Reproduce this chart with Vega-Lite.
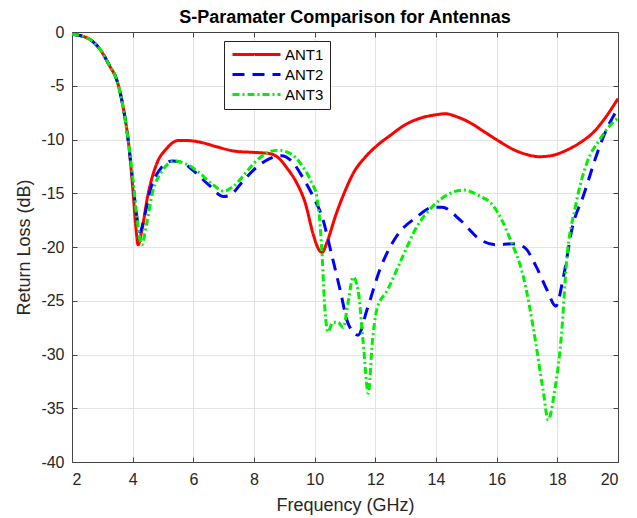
{
  "$schema": "https://vega.github.io/schema/vega-lite/v6.json",
  "width": 546,
  "height": 430,
  "autosize": {"type": "none"},
  "padding": {"left": 72, "top": 32, "right": 19, "bottom": 56},
  "background": "white",
  "title": {
    "text": "S-Paramater Comparison for Antennas",
    "font": "Liberation Sans",
    "fontSize": 18,
    "fontWeight": "bold",
    "color": "#000000",
    "anchor": "middle",
    "offset": -3
  },
  "config": {
    "view": {"stroke": "#444444", "strokeWidth": 1},
    "axis": {
      "labelFont": "Liberation Sans",
      "titleFont": "Liberation Sans",
      "labelFontSize": 16,
      "titleFontSize": 18,
      "titleFontWeight": "normal",
      "labelColor": "#262626",
      "titleColor": "#262626",
      "domainColor": "#444444",
      "tickColor": "#444444",
      "gridColor": "#e3e3e3",
      "gridWidth": 1,
      "labelExpr": "toString(datum.value)"
    }
  },
  "data": {
    "values": [
      {"f": 2.0, "s": -0.2, "ant": "ANT1"},
      {"f": 2.36, "s": -0.4, "ant": "ANT1"},
      {"f": 2.65, "s": -0.8, "ant": "ANT1"},
      {"f": 2.92, "s": -1.6, "ant": "ANT1"},
      {"f": 3.25, "s": -3.2, "ant": "ANT1"},
      {"f": 3.48, "s": -4.5, "ant": "ANT1"},
      {"f": 3.68, "s": -6.9, "ant": "ANT1"},
      {"f": 3.85, "s": -10.0, "ant": "ANT1"},
      {"f": 4.0, "s": -14.4, "ant": "ANT1"},
      {"f": 4.1, "s": -18.0, "ant": "ANT1"},
      {"f": 4.18, "s": -19.8, "ant": "ANT1"},
      {"f": 4.3, "s": -18.5, "ant": "ANT1"},
      {"f": 4.5, "s": -15.2, "ant": "ANT1"},
      {"f": 4.8, "s": -12.2, "ant": "ANT1"},
      {"f": 5.1, "s": -10.9, "ant": "ANT1"},
      {"f": 5.5, "s": -10.1, "ant": "ANT1"},
      {"f": 5.8, "s": -10.1, "ant": "ANT1"},
      {"f": 6.3, "s": -10.3, "ant": "ANT1"},
      {"f": 6.8, "s": -10.7, "ant": "ANT1"},
      {"f": 7.4, "s": -11.1, "ant": "ANT1"},
      {"f": 8.0, "s": -11.2, "ant": "ANT1"},
      {"f": 8.5, "s": -11.3, "ant": "ANT1"},
      {"f": 8.8, "s": -11.7, "ant": "ANT1"},
      {"f": 9.1, "s": -12.7, "ant": "ANT1"},
      {"f": 9.4, "s": -14.0, "ant": "ANT1"},
      {"f": 9.7, "s": -16.0, "ant": "ANT1"},
      {"f": 9.95, "s": -18.8, "ant": "ANT1"},
      {"f": 10.15, "s": -20.3, "ant": "ANT1"},
      {"f": 10.25, "s": -20.5, "ant": "ANT1"},
      {"f": 10.4, "s": -19.6, "ant": "ANT1"},
      {"f": 10.7, "s": -17.0, "ant": "ANT1"},
      {"f": 11.0, "s": -14.8, "ant": "ANT1"},
      {"f": 11.3, "s": -13.0, "ant": "ANT1"},
      {"f": 11.65, "s": -11.7, "ant": "ANT1"},
      {"f": 12.0, "s": -10.7, "ant": "ANT1"},
      {"f": 12.5, "s": -9.6, "ant": "ANT1"},
      {"f": 13.0, "s": -8.6, "ant": "ANT1"},
      {"f": 13.5, "s": -8.0, "ant": "ANT1"},
      {"f": 14.0, "s": -7.7, "ant": "ANT1"},
      {"f": 14.3, "s": -7.6, "ant": "ANT1"},
      {"f": 14.7, "s": -7.9, "ant": "ANT1"},
      {"f": 15.1, "s": -8.4, "ant": "ANT1"},
      {"f": 15.6, "s": -9.3, "ant": "ANT1"},
      {"f": 16.1, "s": -10.2, "ant": "ANT1"},
      {"f": 16.6, "s": -11.0, "ant": "ANT1"},
      {"f": 17.0, "s": -11.4, "ant": "ANT1"},
      {"f": 17.4, "s": -11.6, "ant": "ANT1"},
      {"f": 17.8, "s": -11.5, "ant": "ANT1"},
      {"f": 18.3, "s": -11.0, "ant": "ANT1"},
      {"f": 18.8, "s": -10.2, "ant": "ANT1"},
      {"f": 19.2, "s": -9.3, "ant": "ANT1"},
      {"f": 19.6, "s": -7.9, "ant": "ANT1"},
      {"f": 20.0, "s": -6.2, "ant": "ANT1"},

      {"f": 2.0, "s": -0.2, "ant": "ANT2"},
      {"f": 2.36, "s": -0.4, "ant": "ANT2"},
      {"f": 2.65, "s": -0.8, "ant": "ANT2"},
      {"f": 2.92, "s": -1.6, "ant": "ANT2"},
      {"f": 3.25, "s": -3.2, "ant": "ANT2"},
      {"f": 3.48, "s": -4.5, "ant": "ANT2"},
      {"f": 3.68, "s": -6.9, "ant": "ANT2"},
      {"f": 3.85, "s": -10.0, "ant": "ANT2"},
      {"f": 4.0, "s": -13.8, "ant": "ANT2"},
      {"f": 4.12, "s": -16.8, "ant": "ANT2"},
      {"f": 4.24, "s": -18.6, "ant": "ANT2"},
      {"f": 4.4, "s": -17.0, "ant": "ANT2"},
      {"f": 4.6, "s": -14.5, "ant": "ANT2"},
      {"f": 4.9, "s": -12.8, "ant": "ANT2"},
      {"f": 5.3, "s": -12.0, "ant": "ANT2"},
      {"f": 5.6, "s": -12.1, "ant": "ANT2"},
      {"f": 6.0, "s": -12.9, "ant": "ANT2"},
      {"f": 6.5, "s": -14.2, "ant": "ANT2"},
      {"f": 7.0, "s": -15.3, "ant": "ANT2"},
      {"f": 7.2, "s": -15.2, "ant": "ANT2"},
      {"f": 7.6, "s": -14.0, "ant": "ANT2"},
      {"f": 8.0, "s": -12.8, "ant": "ANT2"},
      {"f": 8.5, "s": -11.8, "ant": "ANT2"},
      {"f": 8.9, "s": -11.5, "ant": "ANT2"},
      {"f": 9.3, "s": -12.2, "ant": "ANT2"},
      {"f": 9.6, "s": -13.5, "ant": "ANT2"},
      {"f": 9.95, "s": -15.3, "ant": "ANT2"},
      {"f": 10.28, "s": -17.5, "ant": "ANT2"},
      {"f": 10.5, "s": -20.0, "ant": "ANT2"},
      {"f": 10.84, "s": -24.0, "ant": "ANT2"},
      {"f": 11.1, "s": -27.1, "ant": "ANT2"},
      {"f": 11.43, "s": -28.2, "ant": "ANT2"},
      {"f": 11.73, "s": -25.8, "ant": "ANT2"},
      {"f": 12.15, "s": -22.1, "ant": "ANT2"},
      {"f": 12.7, "s": -19.0, "ant": "ANT2"},
      {"f": 13.37, "s": -17.2, "ant": "ANT2"},
      {"f": 13.9, "s": -16.3, "ant": "ANT2"},
      {"f": 14.2, "s": -16.3, "ant": "ANT2"},
      {"f": 14.8, "s": -17.5, "ant": "ANT2"},
      {"f": 15.45, "s": -19.3, "ant": "ANT2"},
      {"f": 16.0, "s": -19.8, "ant": "ANT2"},
      {"f": 16.5, "s": -19.7, "ant": "ANT2"},
      {"f": 16.9, "s": -20.0, "ant": "ANT2"},
      {"f": 17.3, "s": -21.8, "ant": "ANT2"},
      {"f": 17.66, "s": -24.0, "ant": "ANT2"},
      {"f": 17.95, "s": -25.5, "ant": "ANT2"},
      {"f": 18.2, "s": -22.8, "ant": "ANT2"},
      {"f": 18.5, "s": -18.1, "ant": "ANT2"},
      {"f": 18.85, "s": -15.3, "ant": "ANT2"},
      {"f": 19.4, "s": -10.6, "ant": "ANT2"},
      {"f": 19.6, "s": -9.2, "ant": "ANT2"},
      {"f": 20.0, "s": -7.1, "ant": "ANT2"},

      {"f": 2.0, "s": -0.2, "ant": "ANT3"},
      {"f": 2.36, "s": -0.4, "ant": "ANT3"},
      {"f": 2.65, "s": -0.8, "ant": "ANT3"},
      {"f": 2.92, "s": -1.6, "ant": "ANT3"},
      {"f": 3.25, "s": -3.2, "ant": "ANT3"},
      {"f": 3.48, "s": -4.5, "ant": "ANT3"},
      {"f": 3.68, "s": -6.9, "ant": "ANT3"},
      {"f": 3.85, "s": -10.0, "ant": "ANT3"},
      {"f": 4.0, "s": -13.5, "ant": "ANT3"},
      {"f": 4.15, "s": -17.5, "ant": "ANT3"},
      {"f": 4.3, "s": -19.8, "ant": "ANT3"},
      {"f": 4.45, "s": -18.0, "ant": "ANT3"},
      {"f": 4.65, "s": -15.0, "ant": "ANT3"},
      {"f": 4.95, "s": -13.0, "ant": "ANT3"},
      {"f": 5.4, "s": -12.0, "ant": "ANT3"},
      {"f": 5.7, "s": -12.2, "ant": "ANT3"},
      {"f": 6.2, "s": -13.1, "ant": "ANT3"},
      {"f": 6.6, "s": -14.1, "ant": "ANT3"},
      {"f": 7.0, "s": -14.8, "ant": "ANT3"},
      {"f": 7.3, "s": -14.4, "ant": "ANT3"},
      {"f": 7.7, "s": -13.2, "ant": "ANT3"},
      {"f": 8.0, "s": -12.2, "ant": "ANT3"},
      {"f": 8.4, "s": -11.3, "ant": "ANT3"},
      {"f": 8.8, "s": -11.0, "ant": "ANT3"},
      {"f": 9.2, "s": -11.3, "ant": "ANT3"},
      {"f": 9.6, "s": -12.5, "ant": "ANT3"},
      {"f": 9.9, "s": -14.0, "ant": "ANT3"},
      {"f": 10.07, "s": -15.3, "ant": "ANT3"},
      {"f": 10.18, "s": -18.0, "ant": "ANT3"},
      {"f": 10.25, "s": -21.0, "ant": "ANT3"},
      {"f": 10.32, "s": -25.0, "ant": "ANT3"},
      {"f": 10.44, "s": -27.9, "ant": "ANT3"},
      {"f": 10.6, "s": -27.0, "ant": "ANT3"},
      {"f": 10.77, "s": -27.0, "ant": "ANT3"},
      {"f": 10.94, "s": -27.5, "ant": "ANT3"},
      {"f": 11.1, "s": -25.2, "ant": "ANT3"},
      {"f": 11.27, "s": -22.8, "ant": "ANT3"},
      {"f": 11.43, "s": -24.0, "ant": "ANT3"},
      {"f": 11.6, "s": -28.9, "ant": "ANT3"},
      {"f": 11.77, "s": -33.6, "ant": "ANT3"},
      {"f": 11.9, "s": -28.9, "ant": "ANT3"},
      {"f": 12.05, "s": -25.8, "ant": "ANT3"},
      {"f": 12.4, "s": -24.0, "ant": "ANT3"},
      {"f": 12.9, "s": -20.9, "ant": "ANT3"},
      {"f": 13.37, "s": -18.1, "ant": "ANT3"},
      {"f": 13.9, "s": -16.2, "ant": "ANT3"},
      {"f": 14.4, "s": -15.1, "ant": "ANT3"},
      {"f": 14.9, "s": -14.7, "ant": "ANT3"},
      {"f": 15.4, "s": -15.2, "ant": "ANT3"},
      {"f": 15.9, "s": -16.2, "ant": "ANT3"},
      {"f": 16.45, "s": -19.3, "ant": "ANT3"},
      {"f": 16.9, "s": -23.0, "ant": "ANT3"},
      {"f": 17.2, "s": -27.4, "ant": "ANT3"},
      {"f": 17.53, "s": -33.3, "ant": "ANT3"},
      {"f": 17.7, "s": -36.1, "ant": "ANT3"},
      {"f": 17.9, "s": -33.6, "ant": "ANT3"},
      {"f": 18.15, "s": -27.7, "ant": "ANT3"},
      {"f": 18.3, "s": -21.5, "ant": "ANT3"},
      {"f": 18.6, "s": -16.2, "ant": "ANT3"},
      {"f": 18.97, "s": -12.2, "ant": "ANT3"},
      {"f": 19.4, "s": -10.0, "ant": "ANT3"},
      {"f": 19.7, "s": -8.8, "ant": "ANT3"},
      {"f": 20.0, "s": -8.0, "ant": "ANT3"}
    ]
  },
  "layer": [
    {
      "mark": {"type": "line", "strokeWidth": 3, "interpolate": "monotone", "clip": true},
      "encoding": {
        "x": {
          "field": "f",
          "type": "quantitative",
          "scale": {"domain": [2, 20], "nice": false},
          "axis": {
            "title": "Frequency (GHz)",
            "values": [2, 4, 6, 8, 10, 12, 14, 16, 18, 20],
            "tickSize": -5,
            "labelPadding": 14,
            "titlePadding": 9
          }
        },
        "y": {
          "field": "s",
          "type": "quantitative",
          "scale": {"domain": [-40, 0], "nice": false},
          "axis": {
            "title": "Return Loss (dB)",
            "values": [-40, -35, -30, -25, -20, -15, -10, -5, 0],
            "tickSize": -5,
            "labelPadding": 13,
            "titlePadding": 7
          }
        },
        "color": {
          "field": "ant",
          "type": "nominal",
          "scale": {"domain": ["ANT1", "ANT2", "ANT3"], "range": ["#ff0000", "#0000ff", "#00f000"]},
          "legend": {
            "title": null,
            "orient": "none",
            "legendX": 152,
            "legendY": 9,
            "symbolType": "M-1,0H8.6",
            "symbolSize": 100,
            "symbolStrokeWidth": 3,
            "labelFont": "Liberation Sans",
            "labelFontSize": 15,
            "labelColor": "#000000",
            "labelOffset": 40,
            "strokeColor": "#222222",
            "fillColor": "white",
            "padding": 6,
            "rowPadding": 4
          }
        },
        "strokeDash": {
          "field": "ant",
          "type": "nominal",
          "scale": {"domain": ["ANT1", "ANT2", "ANT3"], "range": [[1, 0], [12, 8], [7, 3, 2, 3]]},
          "legend": {
            "title": null,
            "orient": "none",
            "legendX": 152,
            "legendY": 9,
            "symbolType": "M-1,0H8.6",
            "symbolSize": 100,
            "symbolStrokeWidth": 3,
            "labelFont": "Liberation Sans",
            "labelFontSize": 15,
            "labelColor": "#000000",
            "labelOffset": 40,
            "strokeColor": "#222222",
            "fillColor": "white",
            "padding": 6,
            "rowPadding": 4
          }
        }
      }
    },
    {
      "mark": {"type": "line", "opacity": 0},
      "encoding": {
        "detail": {"field": "ant", "type": "nominal"},
        "x": {
          "field": "f",
          "type": "quantitative",
          "scale": {"domain": [2, 20], "nice": false},
          "axis": {
            "orient": "top",
            "values": [2, 4, 6, 8, 10, 12, 14, 16, 18, 20],
            "labels": false,
            "title": null,
            "grid": false,
            "tickSize": -5
          }
        },
        "y": {
          "field": "s",
          "type": "quantitative",
          "scale": {"domain": [-40, 0], "nice": false},
          "axis": {
            "orient": "right",
            "values": [-40, -35, -30, -25, -20, -15, -10, -5, 0],
            "labels": false,
            "title": null,
            "grid": false,
            "tickSize": -5
          }
        }
      }
    }
  ],
  "resolve": {"axis": {"x": "independent", "y": "independent"}}
}
